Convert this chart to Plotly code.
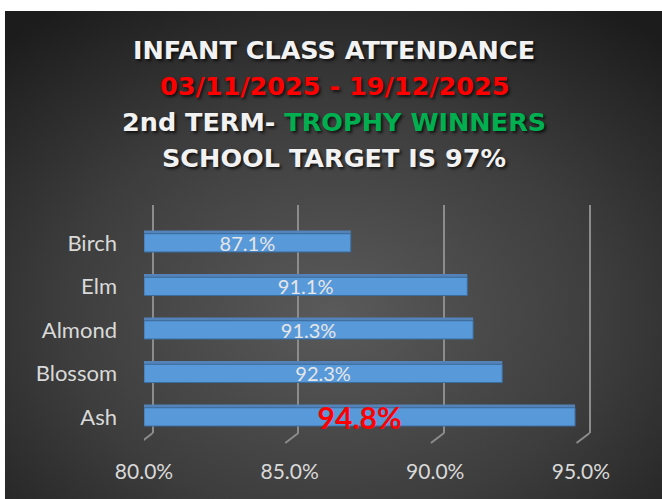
import base64
import plotly.graph_objects as go

# ---------------- data ----------------
classes = ["Ash", "Blossom", "Almond", "Elm", "Birch"]
attendance = [94.8, 92.3, 91.3, 91.1, 87.1]
tick_vals = [80, 85, 90, 95]
tick_text = ["80.0%", "85.0%", "90.0%", "95.0%"]
title_lines = [
    "INFANT CLASS ATTENDANCE",
    "03/11/2025 - 19/12/2025",
    "2nd TERM- <span style='color:#00B050'>TROPHY WINNERS</span>",
    "SCHOOL TARGET IS 97%",
]
title_colors = ["#F2F2F2", "#FF0000", "#F2F2F2", "#F2F2F2"]

# ---------------- layout geometry ----------------
W, H = 662, 499
px_per_unit = 29.1
ML, MT, MB = 144, 205, 66
x_range = [80, 95.45]
grid_shift = 0.3          # back-wall gridlines sit a little to the right (3D look)
y_range = [-0.37, 4.87]
pw = (x_range[1] - x_range[0]) * px_per_unit
MR = W - ML - pw
ph = H - MT - MB

def px_x(px):
    return (px - ML) / pw

def px_y(py):
    return (H - MB - py) / ph

# radial gradient background (dark chart area) as svg image
svg = (
    "<svg xmlns='http://www.w3.org/2000/svg' width='657' height='488' preserveAspectRatio='none'>"
    "<defs><radialGradient id='g' cx='50%' cy='62%' r='75%' fx='50%' fy='62%'>"
    "<stop offset='0' stop-color='#5a5a5a'/>"
    "<stop offset='0.55' stop-color='#3d3d3d'/>"
    "<stop offset='1' stop-color='#1c1c1c'/>"
    "</radialGradient></defs>"
    "<rect width='657' height='488' fill='url(#g)'/></svg>"
)
svg_uri = "data:image/svg+xml;base64," + base64.b64encode(svg.encode()).decode()

labels = [f"{v:.1f}%" for v in attendance]
labels = [f"<b>{t}</b>" if c == "Ash" else t for t, c in zip(labels, classes)]
label_colors = ["#FF0000" if c == "Ash" else "#E6E6E6" for c in classes]
label_sizes = [30 if c == "Ash" else 20 for c in classes]

fig = go.Figure()
# top face of the 3D bars
fig.add_trace(go.Bar(
    y=classes, x=[v - 80 for v in attendance], base=80, orientation="h",
    width=0.075, offset=0.21,
    marker=dict(color="#5483BA", line=dict(width=0)),
    hoverinfo="skip",
))
# front face of the bars
fig.add_trace(go.Bar(
    y=classes,
    x=[v - 80 for v in attendance],
    base=80,
    orientation="h",
    width=0.42, offset=-0.21,
    marker=dict(color="#5899DA", line=dict(color="#3A6C9E", width=1)),
    text=labels,
    textposition="inside",
    insidetextanchor="middle",
    constraintext="none",
    textangle=0,
    textfont=dict(color=label_colors, size=label_sizes, family="Lato"),
    hoverinfo="skip",
))
# empty trace so the gridline axis is drawn
fig.add_trace(go.Scatter(x=[], y=[], xaxis="x2", yaxis="y", hoverinfo="skip"))

annotations = []
line_y = [50, 86, 122, 158]
for txt, col, yy in zip(title_lines, title_colors, line_y):
    annotations.append(dict(
        text=f"<b>{txt}</b>", x=px_x(334), y=px_y(yy), xref="paper", yref="paper",
        xanchor="center", yanchor="middle", showarrow=False,
        font=dict(family="DejaVu Sans", size=25.5, color=col, shadow="2px 2px 3px rgba(0,0,0,0.7)"),
    ))

# slanted feet of the 3D gridlines
shapes = []
for tv in tick_vals:
    shapes.append(dict(
        type="line", xref="x2", yref="paper",
        x0=tv, y0=0, x1=tv - 0.45, y1=-10 / ph,
        line=dict(color="#8C8C8C", width=2),
    ))

fig.update_layout(
    width=W, height=H,
    margin=dict(l=ML, r=MR, t=MT, b=MB, autoexpand=False),
    paper_bgcolor="white",
    plot_bgcolor="rgba(0,0,0,0)",
    showlegend=False,
    barmode="overlay",
    annotations=annotations,
    shapes=shapes,
    images=[dict(
        source=svg_uri, xref="paper", yref="paper",
        x=px_x(5), y=px_y(11), sizex=(W - 5) / pw, sizey=(H - 11) / ph,
        xanchor="left", yanchor="top", sizing="stretch", layer="below",
    )],
    xaxis=dict(
        range=x_range, tickvals=tick_vals, ticktext=tick_text,
        showgrid=False, zeroline=False, showline=False, ticks="",
        tickfont=dict(family="Lato", size=21, color="#D9D9D9"),
        ticklabelstandoff=24,
        fixedrange=True,
    ),
    xaxis2=dict(
        overlaying="x", range=[x_range[0] - grid_shift, x_range[1] - grid_shift],
        tickvals=tick_vals, showticklabels=False,
        showgrid=True, gridcolor="#8C8C8C", gridwidth=2,
        zeroline=False, showline=False, ticks="", fixedrange=True,
    ),
    yaxis=dict(
        range=y_range, showgrid=False, zeroline=False, showline=False, ticks="",
        tickfont=dict(family="Lato", size=22, color="#D9D9D9"),
        ticklabelstandoff=26,
        fixedrange=True,
    ),
)

fig.write_html("out.html", config={"displayModeBar": False},
               post_script="document.body.style.margin='0px';")
